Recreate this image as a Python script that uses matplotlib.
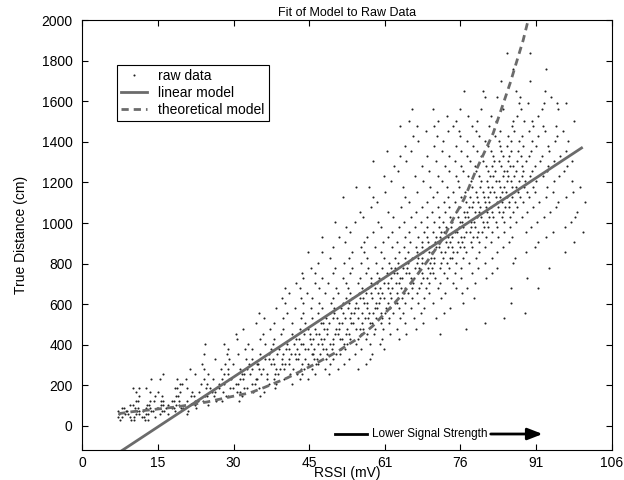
import numpy as np
import matplotlib
matplotlib.use("Agg")
import matplotlib.pyplot as plt
from matplotlib.lines import Line2D

plt.rcParams['font.family'] = ['Liberation Sans', 'DejaVu Sans']
plt.rcParams['font.size'] = 10

# raw data: true distance (cm) -> RSSI readings (mV) seen at that distance
raw_low = [
    (30, [7.6, 9.7, 10.4, 12.5, 13.1]),
    (45, [7.2, 7.9, 9.6, 10.3, 11.9, 12.4, 14.6]),
    (60, [7.4, 8.6, 9.1, 10.8, 11.3, 12.7, 13.2, 15.5, 17.1, 20.9]),
    (75, [7.1, 8.7, 9.0, 10.9, 11.4, 12.2, 13.8, 14.1, 15.9, 16.3, 18.6, 21.2]),
    (90, [7.9, 8.4, 10.6, 11.1, 12.8, 13.5, 14.9, 15.2, 16.7, 17.9, 18.3, 19.8, 20.2, 22.7]),
    (105, [9.5, 10.1, 12.9, 13.4, 15.7, 16.2, 17.1, 18.8, 19.4, 21.6, 22.5, 25.1]),
    (125, [10.8, 11.2, 13.6, 14.3, 15.8, 16.1, 17.9, 18.4, 19.3, 20.9, 22.6, 23.1, 24.2, 26.7, 28.0, 31.4]),
    (145, [11.4, 14.6, 16.0, 18.8, 19.2, 21.7, 22.3, 24.5, 25.0, 26.4, 28.7, 29.1, 32.0, 35.6]),
    (165, [10.7, 13.5, 15.1, 19.6, 22.0, 23.4, 25.9, 26.6, 28.2, 30.9, 31.5, 34.1, 36.3]),
    (185, [10.1, 11.3, 12.8, 18.5, 19.0, 20.9, 24.7, 25.6, 27.3, 29.6, 30.2, 32.4, 33.0, 35.4, 38.6]),
    (205, [19.5, 20.0, 23.7, 24.9, 27.4, 28.3, 30.8, 31.2, 33.9, 34.6, 37.4, 38.7, 41.9]),
    (230, [13.7, 15.6, 19.0, 20.8, 24.4, 26.1, 27.9, 29.3, 29.8, 31.5, 32.2, 34.7, 35.0, 36.9, 38.3, 40.4, 43.6, 45.2]),
    (255, [16.1, 22.6, 25.2, 28.4, 29.1, 31.9, 32.3, 33.6, 35.8, 37.0, 38.5, 39.2, 41.6, 42.9, 44.0, 46.7, 49.5]),
    (280, [21.5, 24.3, 27.8, 29.2, 31.6, 33.0, 33.9, 35.4, 36.1, 38.8, 39.5, 40.3, 42.2, 43.7, 44.4, 46.0, 48.6, 51.3, 55.2]),
    (305, [23.9, 28.6, 30.1, 33.3, 34.9, 35.2, 37.8, 38.3, 40.0, 40.6, 41.4, 43.9, 45.1, 46.8, 47.2, 49.7, 52.5, 56.8]),
    (330, [26.6, 29.4, 32.7, 34.0, 36.5, 37.3, 38.1, 39.9, 41.3, 42.8, 43.1, 44.6, 46.5, 47.0, 48.9, 50.2, 53.4, 57.6]),
    (355, [24.3, 28.9, 31.2, 35.6, 37.4, 39.0, 40.2, 41.8, 42.5, 43.3, 45.9, 46.2, 47.7, 49.1, 50.8, 51.6, 54.7, 58.1]),
    (380, [29.1, 32.5, 34.0, 37.7, 39.4, 40.8, 41.3, 42.9, 44.6, 45.1, 46.4, 48.3, 48.8, 50.0, 51.9, 52.7, 55.8, 60.4]),
    (405, [24.6, 28.4, 33.1, 36.6, 38.2, 40.9, 42.3, 43.8, 44.1, 45.7, 47.2, 48.0, 49.6, 50.3, 52.4, 53.1, 54.9, 57.7, 59.6]),
    (430, [31.0, 35.5, 38.4, 41.6, 42.8, 43.4, 45.6, 46.3, 47.9, 48.5, 50.2, 51.7, 52.1, 53.6, 55.3, 56.9, 60.0, 63.5]),
    (455, [30.8, 36.2, 39.7, 42.0, 44.3, 45.5, 46.9, 47.4, 49.0, 50.7, 51.3, 52.8, 53.5, 55.9, 57.1, 58.4, 61.7, 64.9, 71.6]),
]

raw_mid = [
    (480, [32.2, 37.5, 40.1, 43.6, 45.2, 46.7, 48.5, 49.1, 50.8, 51.4, 53.0, 54.9, 55.6, 56.3, 58.7, 60.2, 63.1, 66.8, 76.8]),
    (505, [34.7, 38.3, 41.9, 44.5, 47.8, 48.2, 49.4, 51.5, 52.0, 53.8, 54.3, 56.1, 57.6, 58.0, 59.9, 61.4, 64.6, 68.3, 80.7]),
    (530, [36.4, 40.2, 43.7, 46.1, 48.9, 50.3, 51.0, 52.7, 53.6, 55.2, 56.7, 57.3, 58.8, 60.1, 61.5, 63.6, 66.4, 70.9, 84.5]),
    (555, [35.3, 41.0, 44.2, 47.3, 49.6, 50.5, 52.3, 53.9, 54.4, 56.0, 57.5, 58.2, 59.8, 60.6, 62.2, 64.3, 67.9, 72.4, 88.6]),
    (580, [38.8, 42.6, 45.8, 48.0, 50.4, 51.9, 53.2, 54.7, 55.3, 57.1, 58.6, 59.0, 60.9, 61.7, 63.4, 65.8, 68.5, 73.6]),
    (605, [40.6, 44.1, 47.5, 49.9, 52.2, 53.5, 54.8, 56.4, 57.0, 58.9, 59.5, 61.2, 62.6, 63.0, 64.7, 67.3, 70.2, 76.3, 85.8]),
    (630, [39.9, 43.8, 46.0, 50.3, 52.9, 54.1, 55.6, 56.2, 58.0, 59.7, 60.4, 61.9, 63.3, 64.1, 66.0, 68.4, 71.8, 78.5]),
    (655, [41.3, 45.0, 48.6, 51.2, 53.7, 55.4, 56.9, 57.8, 59.3, 60.1, 61.6, 63.0, 64.5, 65.2, 67.0, 69.5, 72.7, 76.0]),
    (680, [40.5, 43.5, 47.4, 50.9, 53.3, 56.0, 57.2, 58.7, 59.6, 61.3, 62.0, 63.8, 64.6, 66.1, 67.4, 68.9, 71.2, 74.8, 77.1, 85.9, 91.3]),
    (705, [42.7, 46.6, 49.2, 52.8, 55.3, 57.9, 59.0, 60.5, 61.2, 62.9, 63.4, 65.6, 66.3, 67.9, 69.4, 71.7, 74.3, 78.6]),
    (730, [44.1, 48.0, 52.2, 55.6, 57.8, 59.5, 60.2, 61.9, 63.6, 64.0, 65.8, 66.5, 68.3, 69.0, 70.6, 73.1, 75.9, 80.9, 89.0]),
    (755, [43.9, 46.6, 50.3, 53.7, 56.9, 59.1, 61.0, 62.4, 63.1, 64.8, 65.5, 67.2, 68.0, 69.7, 70.3, 72.5, 74.6, 78.0, 82.1]),
    (780, [45.8, 50.7, 54.1, 57.3, 60.0, 61.8, 62.6, 64.3, 65.1, 66.7, 67.5, 69.2, 70.0, 71.6, 73.4, 75.8, 79.3, 83.0, 93.5]),
    (805, [47.2, 52.4, 55.9, 58.8, 61.5, 63.2, 64.9, 65.3, 67.1, 68.0, 69.6, 70.4, 71.9, 73.0, 74.8, 77.5, 80.6, 86.3]),
    (830, [49.7, 53.5, 57.0, 60.4, 62.7, 64.6, 66.0, 67.3, 68.1, 69.9, 70.5, 72.2, 73.7, 74.1, 76.3, 78.9, 82.0, 86.7]),
    (855, [45.2, 48.0, 54.0, 56.5, 59.9, 63.4, 65.2, 67.0, 68.2, 69.5, 70.1, 71.8, 72.6, 74.3, 75.0, 76.9, 79.4, 83.1, 88.9, 96.6]),
    (880, [50.3, 55.8, 58.7, 62.1, 64.4, 66.8, 68.1, 69.4, 70.9, 71.5, 73.2, 74.0, 75.7, 76.4, 78.1, 80.6, 84.2, 90.7]),
    (905, [52.6, 56.4, 60.3, 63.0, 65.7, 68.0, 69.3, 70.6, 71.1, 72.9, 73.6, 75.3, 76.0, 77.8, 79.5, 81.8, 85.5, 91.2, 98.5]),
]

raw_high = [
    (930, [48.1, 51.4, 57.1, 61.2, 64.6, 67.3, 69.0, 70.8, 71.6, 73.3, 74.1, 75.9, 76.5, 78.2, 79.0, 80.9, 83.3, 86.0, 92.9]),
    (955, [53.6, 58.3, 62.0, 65.5, 68.4, 70.2, 71.9, 72.4, 74.6, 75.0, 76.8, 77.7, 79.3, 80.1, 82.0, 84.5, 88.8, 94.3, 100.2]),
    (980, [52.9, 59.8, 63.5, 66.7, 69.1, 71.5, 72.8, 73.9, 75.4, 76.2, 77.9, 78.6, 80.4, 81.2, 83.0, 85.6, 89.9, 96.7]),
    (1005, [50.6, 54.7, 59.2, 64.4, 67.8, 70.5, 72.3, 74.0, 75.6, 76.1, 77.8, 78.5, 80.2, 81.0, 82.9, 84.4, 86.9, 91.1, 97.9]),
    (1030, [56.3, 62.2, 65.9, 69.0, 71.4, 73.6, 75.2, 76.7, 77.3, 79.1, 79.8, 81.5, 82.3, 84.0, 85.7, 88.1, 92.4, 98.6]),
    (1055, [55.6, 61.3, 66.9, 70.1, 72.6, 74.8, 76.4, 77.0, 78.7, 79.4, 81.0, 82.1, 83.5, 84.3, 86.2, 89.0, 93.7, 99.1]),
    (1080, [57.8, 63.9, 68.0, 71.2, 73.5, 75.7, 77.4, 78.0, 79.6, 80.8, 81.9, 83.3, 84.7, 85.4, 87.1, 90.3, 94.9]),
    (1105, [59.0, 65.4, 69.1, 72.4, 74.7, 76.9, 78.3, 79.2, 80.6, 81.4, 83.1, 84.0, 85.5, 86.7, 88.2, 91.5, 95.3, 100.6]),
    (1130, [52.3, 58.2, 64.7, 70.3, 73.2, 75.8, 77.6, 79.1, 80.4, 81.2, 82.8, 83.7, 85.1, 86.0, 87.6, 89.4, 92.9, 96.8]),
    (1155, [60.7, 67.0, 71.1, 74.3, 76.6, 78.8, 80.2, 81.7, 82.4, 84.1, 84.9, 86.5, 87.3, 89.0, 90.6, 94.2, 98.3]),
    (1180, [54.8, 57.5, 64.2, 69.6, 73.0, 75.5, 78.1, 79.7, 81.3, 82.0, 83.6, 84.5, 86.0, 86.8, 88.5, 90.3, 93.1, 99.7]),
    (1205, [61.9, 68.3, 72.1, 75.2, 77.9, 79.8, 81.1, 82.8, 83.4, 85.0, 85.8, 87.4, 88.7, 90.9, 94.4, 98.0]),
    (1230, [60.4, 66.6, 71.3, 74.8, 77.2, 79.5, 81.6, 82.3, 84.2, 85.3, 86.4, 88.0, 89.6, 92.3, 95.5]),
    (1255, [63.2, 69.5, 73.4, 76.3, 78.9, 81.2, 82.7, 84.4, 85.1, 86.9, 88.3, 90.0, 93.1, 96.4]),
    (1280, [62.5, 68.0, 72.7, 75.9, 78.6, 80.9, 82.1, 83.8, 85.6, 86.2, 88.0, 90.7, 93.3, 97.0]),
    (1305, [58.2, 64.8, 70.9, 74.6, 77.7, 80.3, 82.5, 83.5, 85.2, 87.0, 88.9, 91.6, 94.5, 98.1]),
    (1330, [63.6, 69.1, 73.5, 77.0, 79.9, 82.2, 84.3, 85.4, 87.9, 89.5, 92.1, 95.6]),
    (1355, [61.0, 65.9, 72.0, 75.8, 79.0, 81.8, 83.9, 85.9, 87.2, 89.8, 93.4, 96.9]),
    (1380, [64.7, 70.4, 74.9, 78.3, 81.2, 83.7, 85.0, 88.2, 90.8, 93.3]),
    (1405, [67.3, 72.2, 77.1, 80.6, 83.4, 85.8, 87.5, 90.1, 94.6, 97.2]),
    (1430, [66.2, 71.0, 75.7, 79.4, 82.6, 85.3, 88.1, 91.2, 95.0]),
    (1455, [68.9, 73.2, 75.4, 78.8, 83.6, 86.5, 89.4, 92.7, 96.3]),
    (1480, [63.7, 67.0, 70.5, 74.3, 78.1, 81.4, 86.1, 90.2, 92.3, 94.8]),
    (1505, [65.4, 71.2, 74.9, 79.0, 82.8, 86.2, 88.4, 90.1, 98.4]),
    (1530, [73.1, 77.3, 81.9, 87.0, 91.3]),
    (1560, [66.1, 70.2, 75.6, 79.8, 84.2, 87.9, 92.0, 95.2]),
    (1590, [87.4, 89.2, 92.5, 95.0, 96.8]),
    (1620, [80.7, 83.1, 87.7, 93.9]),
    (1650, [76.4, 80.2, 86.9, 92.6]),
    (1700, [83.8, 89.6]),
    (1760, [86.2, 92.8]),
    (1840, [85.1, 89.7]),
]

# fitted models
linear_x = [0, 100]
linear_y = [-250, 1370]
theo_x = [7.2, 10, 14, 19, 25, 29.6, 33.6, 36.2, 41, 46.2, 51, 55, 58.2, 62.2, 64.3,
          69, 72.3, 75, 76.5, 78.7, 80, 82.3, 84, 85.7, 88.3, 89.3]
theo_y = [60, 70, 80, 94, 118, 143, 163, 187, 236, 300, 365, 428, 493, 596, 655,
          808, 926, 1054, 1120, 1251, 1320, 1443, 1566, 1690, 1901, 2000]

xtick_labels = ['0', '15', '30', '45', '61', '76', '91', '106']
ytick_values = list(range(0, 2001, 200))

raw_x, raw_y = [], []
for rows in (raw_low, raw_mid, raw_high):
    for dist, readings in rows:
        raw_x.extend(readings)
        raw_y.extend([dist] * len(readings))

fig = plt.figure(figsize=(6.24, 4.8), dpi=100)
ax = fig.add_axes([0.132, 0.062, 0.848, 0.896])

gray = '#6b6b6b'
ax.plot(raw_x, raw_y, linestyle='none', marker='o', ms=1.5, mew=0, color='#222222')
ax.plot(linear_x, linear_y, '-', color=gray, lw=2)
ax.plot(theo_x, theo_y, '--', color=gray, lw=2, dashes=(2.6, 1.8))

ax.set_xlim(0, 106)
ax.set_ylim(-120, 2000)
ax.set_xticks(np.linspace(0, 106, 8))
ax.set_xticklabels(xtick_labels)
ax.set_yticks(ytick_values)
ax.tick_params(direction='in', top=True, right=True, length=4, width=0.8, labelsize=10)
ax.tick_params(axis='x', pad=4)
ax.tick_params(axis='y', pad=7)
for s in ax.spines.values():
    s.set_linewidth(0.8)

ax.set_title('Fit of Model to Raw Data', fontsize=9, pad=3)
ax.set_xlabel('RSSI (mV)', fontsize=10, labelpad=-3)
ax.set_ylabel('True Distance (cm)', fontsize=10, labelpad=10)

# "Lower Signal Strength" arrow
ax.plot([50.6, 57], [-40, -40], color='k', lw=2)
ax.annotate('', xy=(92.2, -40), xytext=(81.8, -40),
            arrowprops=dict(arrowstyle='-|>,head_length=0.9,head_width=0.35', lw=2, color='k',
                            shrinkA=0, shrinkB=0))
ax.text(69.6, -40, 'Lower Signal Strength', ha='center', va='center', fontsize=8.5)

handles = [
    Line2D([], [], linestyle='none', marker='o', ms=1.5, mew=0, color='#222222'),
    Line2D([], [], color=gray, lw=2),
    Line2D([], [], color=gray, lw=2, linestyle='--', dashes=(2.6, 1.8)),
]
leg = ax.legend(handles, ['raw data', 'linear model', 'theoretical model'],
                loc='upper left', bbox_to_anchor=(0.065, 0.896), fancybox=False,
                edgecolor='k', framealpha=1, borderpad=0.3, labelspacing=0.2,
                handlelength=1.9, handletextpad=0.8, borderaxespad=0, fontsize=10)
leg.get_frame().set_linewidth(0.8)

fig.savefig('out.png', dpi=100)
